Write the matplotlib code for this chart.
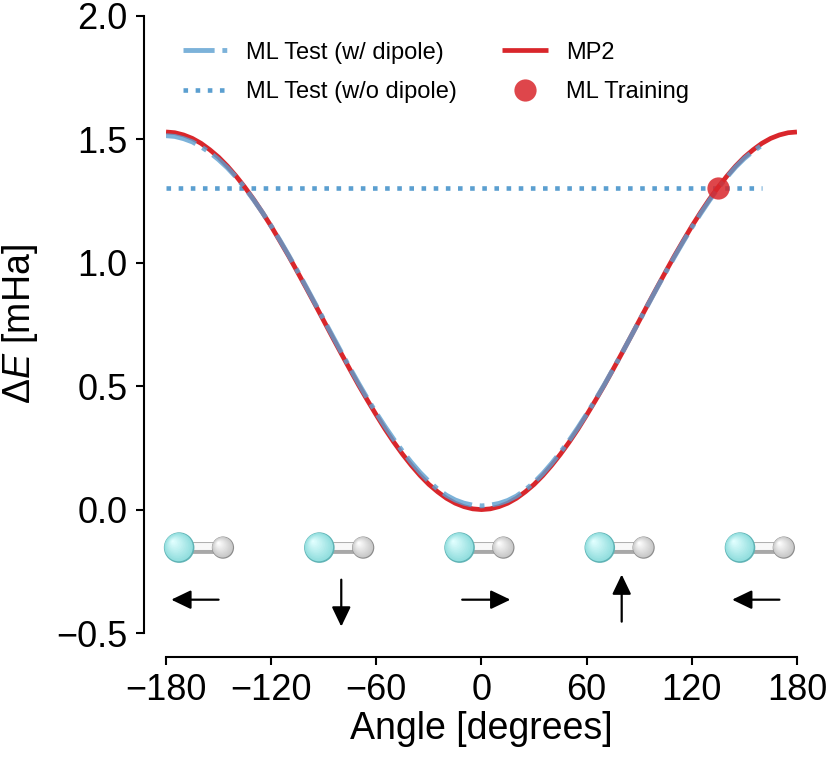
import numpy as np
import matplotlib
matplotlib.use("Agg")
import matplotlib.pyplot as plt
from matplotlib import transforms
from matplotlib.colors import to_rgb

plt.rcParams['font.family'] = ['Liberation Sans', 'DejaVu Sans']
plt.rcParams['mathtext.fontset'] = 'custom'
plt.rcParams['mathtext.rm'] = 'Liberation Sans'
plt.rcParams['mathtext.it'] = 'Liberation Sans:italic'

# ---- data ----
angles = list(range(-180, 185, 5))
mp2 = [1.530, 1.527, 1.518, 1.504, 1.484, 1.458, 1.428, 1.392, 1.351, 1.306, 1.257,
       1.204, 1.148, 1.088, 1.027, 0.963, 0.898, 0.832, 0.765, 0.698, 0.632, 0.567,
       0.503, 0.442, 0.383, 0.326, 0.273, 0.224, 0.179, 0.138, 0.102, 0.072, 0.046,
       0.026, 0.012, 0.003, 0.000, 0.003, 0.012, 0.026, 0.046, 0.072, 0.102, 0.138,
       0.179, 0.224, 0.273, 0.326, 0.383, 0.442, 0.503, 0.567, 0.632, 0.698, 0.765,
       0.832, 0.898, 0.963, 1.027, 1.088, 1.148, 1.204, 1.257, 1.306, 1.351, 1.392,
       1.428, 1.458, 1.484, 1.504, 1.518, 1.527, 1.530]
ml_dip_angles = list(range(-180, 165, 5))
ml_dip = [1.515, 1.512, 1.503, 1.490, 1.470, 1.447, 1.418, 1.385, 1.347, 1.303, 1.255,
          1.204, 1.149, 1.091, 1.030, 0.967, 0.902, 0.836, 0.770, 0.704, 0.638, 0.573,
          0.510, 0.449, 0.391, 0.336, 0.284, 0.236, 0.191, 0.150, 0.114, 0.083, 0.058,
          0.039, 0.026, 0.018, 0.015, 0.018, 0.025, 0.037, 0.055, 0.080, 0.110, 0.146,
          0.187, 0.232, 0.280, 0.332, 0.387, 0.445, 0.505, 0.568, 0.632, 0.698, 0.764,
          0.830, 0.896, 0.960, 1.023, 1.084, 1.143, 1.199, 1.252, 1.302, 1.347, 1.388,
          1.423, 1.452, 1.476]
ml_nodip_angles = [-180, 160]
ml_nodip = [1.305, 1.305]
train_angle = [135]
train_val = [1.305]

mol_angles = [-160, -80, 0, 80, 160]
# dipole arrow direction (degrees, 0 = pointing right) for each molecule
arrow_dirs = [180, 270, 0, 90, 180]

RED = '#d9262b'
BLUE = '#5b9fd0'

fig = plt.figure(figsize=(8.30, 7.57), dpi=100)
ax = fig.add_axes([0.2, 0.1638, 0.7602, 0.8151])

n = min(len(ml_dip_angles), len(ml_dip))
ax.plot(angles[:len(mp2)], mp2, color=RED, lw=3.4, label='MP2', zorder=3,
        solid_capstyle='butt')
ax.plot(ml_dip_angles[:n], ml_dip[:n], color=BLUE, lw=3.5, ls='-.', alpha=0.8,
        label='ML Test (w/ dipole)', zorder=4)
ax.plot(ml_nodip_angles, ml_nodip, color=BLUE, lw=3.3, ls=':', label='ML Test (w/o dipole)',
        zorder=2)
ax.plot(train_angle, train_val, 'o', color=RED, ms=16, alpha=0.85, mec='none',
        label='ML Training', zorder=5)

ax.set_xlim(-180, 180)
ax.set_ylim(-0.5, 2.0)
ax.set_xticks([-180, -120, -60, 0, 60, 120, 180])
ax.set_yticks([-0.5, 0.0, 0.5, 1.0, 1.5, 2.0])
ax.set_xticklabels(['\u2212180', '\u2212120', '\u221260', '0', '60', '120', '180'])
ax.set_yticklabels(['\u22120.5', '0.0', '0.5', '1.0', '1.5', '2.0'])
ax.tick_params(labelsize=26, width=1.5, length=6, pad=6, color='black')

for s in ['top', 'right']:
    ax.spines[s].set_visible(False)
ax.spines['left'].set_position(('outward', 15.5))
ax.spines['bottom'].set_position(('outward', 17))
ax.spines['left'].set_bounds(-0.5, 2.0)
ax.spines['bottom'].set_bounds(-180, 180)
for s in ['left', 'bottom']:
    ax.spines[s].set_linewidth(1.5)

ax.set_xlabel('Angle [degrees]', fontsize=27, labelpad=2)
ax.set_ylabel(r'$\Delta\mathit{E}$ [mHa]', fontsize=27, labelpad=12)

# legend
h, l = ax.get_legend_handles_labels()
order = [1, 2, 0, 3]
ax.legend([h[i] for i in order], [l[i] for i in order], ncol=2, frameon=False,
          loc='upper left', bbox_to_anchor=(0.0, 0.985), fontsize=17,
          handlelength=1.95, handletextpad=0.75, columnspacing=1.9, labelspacing=0.75,
          borderaxespad=0.3)


def sphere(x, y, diam, base, dark, light, z):
    n = 14
    b = np.array(to_rgb(base)); d = np.array(to_rgb(dark)); li = np.array(to_rgb(light))
    for k in range(n):
        f = 1 - k / n
        if k == 0:
            c = d
        else:
            t = k / (n - 1)
            c = b * (1 - t) + li * t
        off = (1 - f) * diam * 0.22
        tr = transforms.offset_copy(ax.transData, fig=fig, x=-off, y=off, units='points')
        ax.scatter([x], [y], s=(diam * (f if k else 1.0)) ** 2, color=c, transform=tr,
                   edgecolors='none', zorder=z + k * 0.01, clip_on=False)


mol_y = -0.154
for a in mol_angles:
    xc, xh = a - 12.5, a + 12.5
    ax.plot([xc, xh], [mol_y, mol_y], color='#a8a8a8', lw=8.5, zorder=6,
            solid_capstyle='butt', clip_on=False)
    ax.plot([xc, xh], [mol_y + 0.005, mol_y + 0.005], color='#f8f8f8', lw=5, zorder=6.1,
            solid_capstyle='butt', clip_on=False)
    sphere(xh, mol_y, 16, '#c4c4c4', '#8c8c8c', '#ffffff', 7)
    sphere(xc, mol_y, 22, '#8cdcdc', '#5fb3b5', '#e2ffff', 8)

arrow_y = -0.365
for a, d in zip(mol_angles, arrow_dirs):
    if d == 180:
        tail, head = (a + 10, arrow_y), (a - 17, arrow_y)
    elif d == 0:
        tail, head = (a - 11, arrow_y), (a + 16.5, arrow_y)
    elif d == 270:
        tail, head = (a, -0.284), (a, -0.474)
    else:
        tail, head = (a, -0.454), (a, -0.263)
    ax.annotate('', xy=head, xytext=tail, annotation_clip=False,
                arrowprops=dict(arrowstyle='-|>,head_length=0.5,head_width=0.24',
                                color='black', lw=1.6, mutation_scale=24,
                                shrinkA=0, shrinkB=0))

fig.savefig('out.png', dpi=100)
